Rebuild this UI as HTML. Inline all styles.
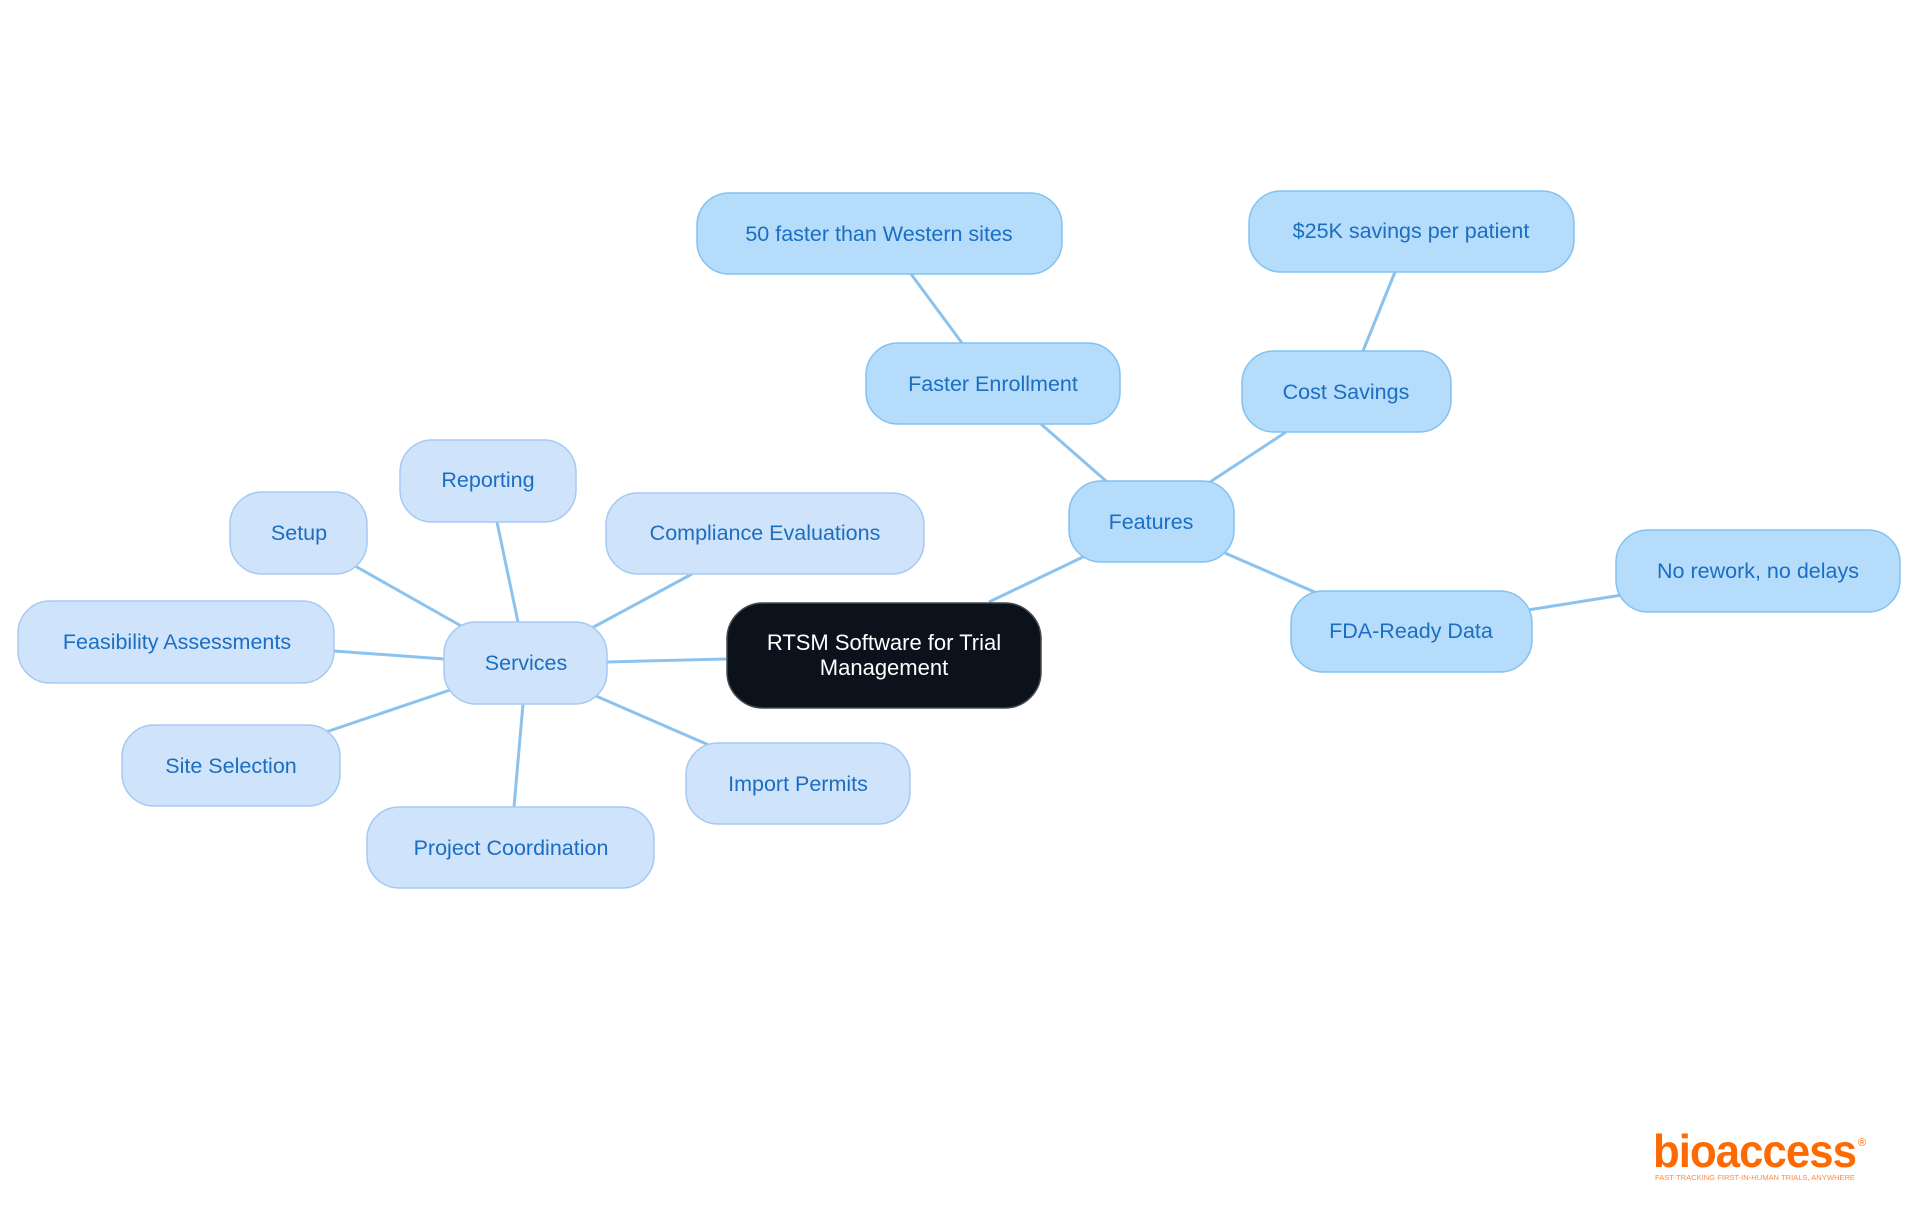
<!DOCTYPE html>
<html><head><meta charset="utf-8"><style>
html,body{margin:0;padding:0;background:#fff;}
svg{display:block}
text{font-family:"Liberation Sans",sans-serif;}
</style></head><body>
<svg width="1920" height="1215" viewBox="0 0 1920 1215" xmlns="http://www.w3.org/2000/svg">
<g stroke="#8cc3ee" stroke-width="3" fill="none">
<line x1="989" y1="602" x2="1085" y2="556"/>
<line x1="1106" y1="481" x2="1041" y2="424"/>
<line x1="962" y1="343" x2="911" y2="274"/>
<line x1="1210" y1="482" x2="1286" y2="432"/>
<line x1="1363" y1="351" x2="1395" y2="272"/>
<line x1="1225" y1="553" x2="1319" y2="594"/>
<line x1="1528" y1="610" x2="1622" y2="595"/>
<line x1="726" y1="659" x2="607" y2="662"/>
<line x1="518" y1="622" x2="497" y2="522"/>
<line x1="463" y1="627" x2="355" y2="566"/>
<line x1="590" y1="629" x2="692" y2="574"/>
<line x1="444" y1="659" x2="334" y2="651"/>
<line x1="453" y1="689" x2="326" y2="732"/>
<line x1="523" y1="704" x2="514" y2="807"/>
<line x1="596" y1="696" x2="711" y2="746"/>
</g>
<rect x="727" y="603" width="314" height="105" rx="36" fill="#0c121c" stroke="#444a52" stroke-width="1.5"/>
<text x="884" y="650" font-size="22" fill="#fff" text-anchor="middle">RTSM Software for Trial</text>
<text x="884" y="675" font-size="22" fill="#fff" text-anchor="middle">Management</text>
<g fill="#b5dcfb" stroke="#82c2f0" stroke-width="1.5">
<rect x="1069" y="481" width="165" height="81" rx="32"/>
<rect x="866" y="343" width="254" height="81" rx="32"/>
<rect x="697" y="193" width="365" height="81" rx="32"/>
<rect x="1242" y="351" width="209" height="81" rx="32"/>
<rect x="1249" y="191" width="325" height="81" rx="32"/>
<rect x="1291" y="591" width="241" height="81" rx="32"/>
<rect x="1616" y="530" width="284" height="82" rx="32"/>
</g>
<g fill="#cfe3fb" stroke="#a6c9f2" stroke-width="1.5">
<rect x="444" y="622" width="163" height="82" rx="32"/>
<rect x="400" y="440" width="176" height="82" rx="32"/>
<rect x="230" y="492" width="137" height="82" rx="32"/>
<rect x="606" y="493" width="318" height="81" rx="32"/>
<rect x="18" y="601" width="316" height="82" rx="32"/>
<rect x="122" y="725" width="218" height="81" rx="32"/>
<rect x="367" y="807" width="287" height="81" rx="32"/>
<rect x="686" y="743" width="224" height="81" rx="32"/>
</g>
<g font-size="21.5" fill="#1b6ec2" text-anchor="middle">
<text x="1151" y="529">Features</text>
<text x="993" y="391">Faster Enrollment</text>
<text x="879" y="241">50 faster than Western sites</text>
<text x="1346" y="399">Cost Savings</text>
<text x="1411" y="238">$25K savings per patient</text>
<text x="1411" y="638">FDA-Ready Data</text>
<text x="1758" y="578">No rework, no delays</text>
<text x="526" y="670">Services</text>
<text x="488" y="487">Reporting</text>
<text x="299" y="540">Setup</text>
<text x="765" y="540">Compliance Evaluations</text>
<text x="177" y="649">Feasibility Assessments</text>
<text x="231" y="773">Site Selection</text>
<text x="511" y="855">Project Coordination</text>
<text x="798" y="791">Import Permits</text>
</g>
<text x="1653" y="1167" font-size="46" font-weight="bold" fill="#ff6a00" letter-spacing="-1" textLength="203" lengthAdjust="spacingAndGlyphs">bioaccess</text>
<text x="1858" y="1146" font-size="11" fill="#ff6a00">®</text>
<text x="1655" y="1180" font-size="7" fill="#ff8a40" textLength="200" lengthAdjust="spacingAndGlyphs">FAST-TRACKING FIRST-IN-HUMAN TRIALS, ANYWHERE</text>
</svg>
</body></html>
